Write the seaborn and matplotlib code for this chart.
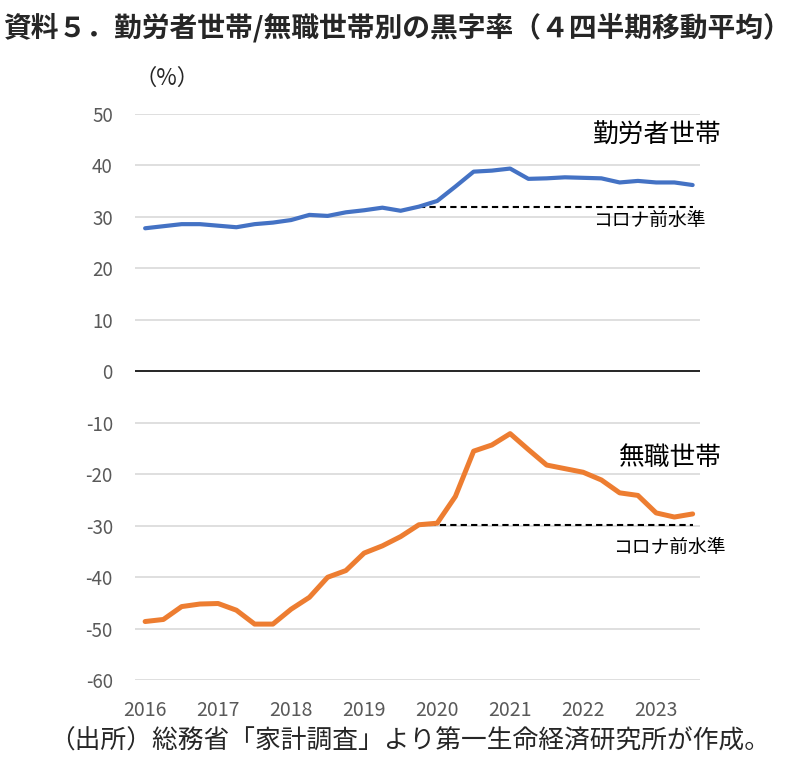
import numpy as np
import pandas as pd
import matplotlib
matplotlib.use("Agg")
import matplotlib.pyplot as plt
import seaborn as sns

# quarterly, 2016Q1 - 2023Q3 (4-quarter moving average, %)
quarters = [f"{y}Q{q}" for y in range(2016, 2024) for q in range(1, 5)][:31]
workers = [27.8, 28.2, 28.6, 28.6, 28.3, 28.0, 28.6, 28.9, 29.4, 30.4,
           30.2, 30.9, 31.3, 31.8, 31.2, 32.0, 33.1, 35.9, 38.8, 39.0,
           39.4, 37.4, 37.5, 37.7, 37.6, 37.5, 36.7, 37.0, 36.7, 36.7, 36.2]
retired = [-48.6, -48.2, -45.7, -45.2, -45.1, -46.4, -49.1, -49.1, -46.2, -43.9,
           -40.0, -38.7, -35.3, -33.9, -32.1, -29.8, -29.5, -24.3, -15.5, -14.3,
           -12.1, -15.2, -18.2, -18.9, -19.6, -21.1, -23.6, -24.1, -27.5, -28.3, -27.7]
pre_covid_idx = 15  # 2019Q4
year_labels = [str(y) for y in range(2016, 2024)]
y_ticks = list(range(-60, 51, 10))

BLUE = "#4472C4"
ORANGE = "#ED7D31"
GRAY = "#595959"

sns.set_theme(style="white")
plt.rcParams["font.family"] = ["Noto Sans CJK JP", "DejaVu Sans"]

df = pd.DataFrame({"q": np.arange(len(quarters)), "workers": workers, "retired": retired})

fig = plt.figure(figsize=(7.9, 7.6), dpi=100)
ax = fig.add_axes([0.171, 0.105, 0.715, 0.745])

for y in y_ticks:
    if y != 0:
        ax.axhline(y, color="#D9D9D9", lw=1.2, zorder=0)
ax.axhline(0, color="black", lw=1.2, zorder=1)

sns.lineplot(data=df, x="q", y="workers", ax=ax, color=BLUE, lw=3.0, zorder=3)
sns.lineplot(data=df, x="q", y="retired", ax=ax, color=ORANGE, lw=3.6, zorder=3)

# pre-covid reference levels
last = len(quarters) - 1
ax.plot([pre_covid_idx, last], [workers[pre_covid_idx]] * 2, ls=(0, (3, 2)), color="black", lw=1.5, zorder=2)
ax.plot([pre_covid_idx, last], [retired[pre_covid_idx]] * 2, ls=(0, (3, 2)), color="black", lw=1.5, zorder=2)

ax.set_xlim(-0.55, 30.4)
ax.set_ylim(-60, 50)
ax.set_yticks(y_ticks)
ax.set_yticklabels([str(v) for v in y_ticks], color=GRAY, fontsize=13.5)
ax.set_xticks(np.arange(0, 32, 4))
ax.set_xticklabels(year_labels, color=GRAY, fontsize=14)
ax.tick_params(axis="x", length=0, pad=14)
ax.tick_params(axis="y", length=0, pad=16)
ax.set_xlabel("")
ax.set_ylabel("")
sns.despine(ax=ax, left=True, bottom=True)

ax.text(31.6, 45.8, "勤労者世帯", fontsize=18.5, ha="right", va="center", color="black")
ax.text(30.7, 29.4, "コロナ前水準", fontsize=13.5, ha="right", va="center", color="black")
ax.text(31.6, -16.9, "無職世帯", fontsize=18.5, ha="right", va="center", color="black")
ax.text(31.8, -34.3, "コロナ前水準", fontsize=13.5, ha="right", va="center", color="black")

fig.text(0.004, 0.963, "資料５．勤労者世帯/無職世帯別の黒字率（４四半期移動平均）",
         fontsize=20, fontweight="bold", ha="left", va="center")
fig.text(0.170, 0.897, "（%）", fontsize=16, ha="left", va="center")
fig.text(0.062, 0.024, "（出所）総務省「家計調査」より第一生命経済研究所が作成。",
         fontsize=18.5, ha="left", va="center")

fig.savefig("out.png", dpi=100)
